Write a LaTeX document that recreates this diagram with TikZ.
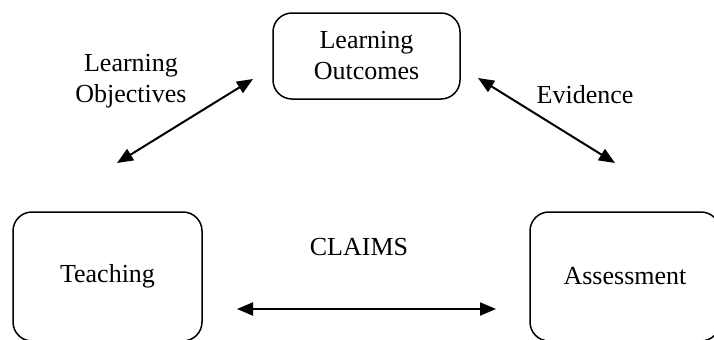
\documentclass[tikz,border=0pt]{standalone}
\usepackage{fontspec}
\setmainfont{Liberation Serif}
\usetikzlibrary{arrows.meta}
\begin{document}
\begin{tikzpicture}[x=0.5pt,y=-0.5pt,
  box/.style={draw, line width=0.75pt, rounded corners=9.5pt, inner sep=0pt, align=center},
  lbl/.style={inner sep=0pt, align=center},
  link/.style={line width=1pt, {Triangle[length=8pt,width=6.5pt]}-{Triangle[length=8pt,width=6.5pt]}}]
\useasboundingbox (0,0) rectangle (714,339);
\fontsize{13}{15.5}\selectfont
\node[box, minimum width=93.5pt, minimum height=43pt] (lo) at (366.5,56) {Learning\\Outcomes};
\node[box, minimum width=94.5pt, minimum height=64.5pt] (te) at (107.5,276.5) {Teaching};
\node[box, minimum width=95pt, minimum height=64.5pt] (as) at (625,276.5) {Assessment};
\node[lbl] (obj) at (131,81.5) {Learning\\Objectives};
\node[lbl, anchor=base] (ev) at (585,103) {Evidence};
\node[lbl, anchor=base] (cl) at (359,255) {CLAIMS};
\coordinate (a1) at (117,163);
\coordinate (a2) at (253,79);
\coordinate (b1) at (478,78);
\coordinate (b2) at (615,163);
\coordinate (c1) at (237,309);
\coordinate (c2) at (496,309);
\draw[link] (a1) -- (a2);
\draw[link] (b1) -- (b2);
\draw[link] (c1) -- (c2);
\end{tikzpicture}
\end{document}
